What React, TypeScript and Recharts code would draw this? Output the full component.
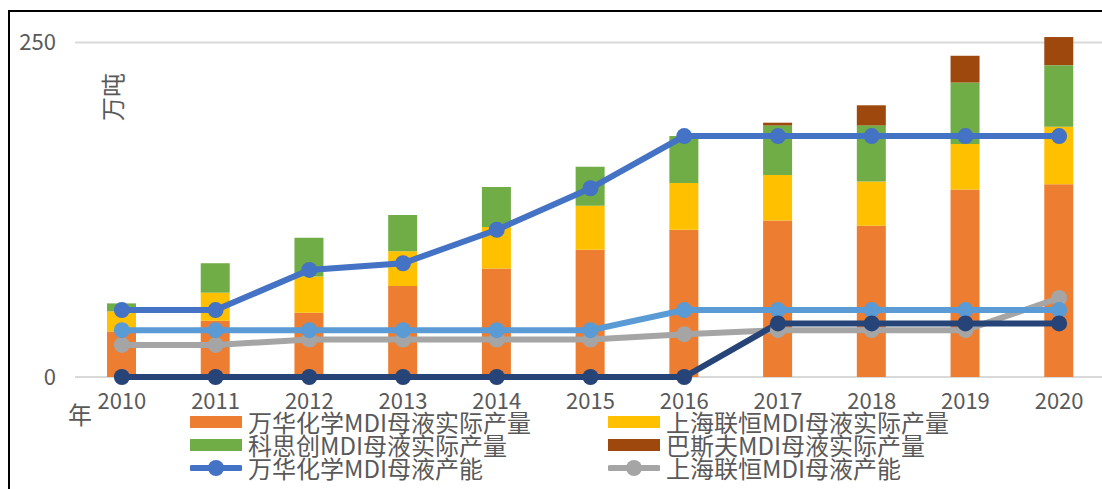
import { ComposedChart, Bar, Line, XAxis, YAxis, CartesianGrid } from 'recharts';

const years = ['2010', '2011', '2012', '2013', '2014', '2015', '2016', '2017', '2018', '2019', '2020'];

// 实际产量（万吨）
const wanhuaOutput = [34, 42, 48, 68, 81, 95, 110, 117, 113, 140, 144];
const lianhengOutput = [15, 21, 27, 26, 31, 33, 35, 34, 33, 34, 43];
const covestroOutput = [6, 22, 29, 27, 30, 29, 35, 37, 42, 46, 46];
const basfOutput = [0, 0, 0, 0, 0, 0, 0, 2, 15, 20, 21];

// 产能（万吨）
const wanhuaCapacity = [50, 50, 80, 85, 110, 141, 180, 180, 180, 180, 180];
const lianhengCapacity = [24, 24, 28, 28, 28, 28, 32, 35, 35, 35, 59];
const covestroCapacity = [35, 35, 35, 35, 35, 35, 50, 50, 50, 50, 50];
const basfCapacity = [0, 0, 0, 0, 0, 0, 0, 40, 40, 40, 40];

const yTicks = [0, 250];

const bars = [
  { key: 'wanhuaOutput', name: '万华化学MDI母液实际产量', color: '#ED7D31' },
  { key: 'lianhengOutput', name: '上海联恒MDI母液实际产量', color: '#FFC000' },
  { key: 'covestroOutput', name: '科思创MDI母液实际产量', color: '#70AD47' },
  { key: 'basfOutput', name: '巴斯夫MDI母液实际产量', color: '#9E480E' },
];

const lines = [
  { key: 'wanhuaCapacity', name: '万华化学MDI母液产能', color: '#4472C4', legend: true },
  { key: 'lianhengCapacity', name: '上海联恒MDI母液产能', color: '#A5A5A5', legend: true },
  { key: 'covestroCapacity', name: '科思创MDI母液产能', color: '#5B9BD5', legend: false },
  { key: 'basfCapacity', name: '巴斯夫MDI母液产能', color: '#264478', legend: false },
];

const data = years.map((year, i) => ({
  year,
  wanhuaOutput: wanhuaOutput[i],
  lianhengOutput: lianhengOutput[i],
  covestroOutput: covestroOutput[i],
  basfOutput: basfOutput[i],
  wanhuaCapacity: wanhuaCapacity[i],
  lianhengCapacity: lianhengCapacity[i],
  covestroCapacity: covestroCapacity[i],
  basfCapacity: basfCapacity[i],
}));

const FONT = '"Noto Sans CJK SC", "Noto Sans", sans-serif';
const TEXT = '#595959';

const legendItems = [
  ...bars.map((b) => ({ name: b.name, color: b.color, kind: 'bar' })),
  ...lines.filter((l) => l.legend).map((l) => ({ name: l.name, color: l.color, kind: 'line' })),
];

// only draw grid lines at the labelled ticks (0 and 250)
const gridAtTicks = (props: any) => {
  const scale = props?.yAxis?.scale;
  if (typeof scale === 'function') return yTicks.map((t) => scale(t));
  if (scale && typeof scale.map === 'function') return yTicks.map((t) => scale.map(t));
  return [];
};

function LegendIcon({ kind, color }: { kind: string; color: string }) {
  if (kind === 'bar') {
    return <div style={{ width: 52, height: 12, background: color, flex: 'none' }} />;
  }
  return (
    <svg width={52} height={18} style={{ flex: 'none' }}>
      <line x1={2} y1={9} x2={50} y2={9} stroke={color} strokeWidth={6} strokeLinecap="round" />
      <circle cx={26} cy={9} r={8} fill={color} />
    </svg>
  );
}

export default function App() {
  return (
    <div
      style={{
        position: 'fixed',
        left: 0,
        top: 0,
        width: 1102,
        height: 489,
        overflow: 'hidden',
        background: '#fff',
        fontFamily: FONT,
        color: TEXT,
      }}
    >
      <div style={{ position: 'absolute', left: 0, top: 0 }}>
        <ComposedChart width={1110} height={489} data={data} margin={{ top: 29, right: 4, bottom: 82, left: 0 }}>
          <CartesianGrid
            vertical={false}
            stroke="#D9D9D9"
            strokeWidth={2}
            horizontalCoordinatesGenerator={gridAtTicks}
          />
          <XAxis
            dataKey="year"
            height={30}
            tickLine={false}
            tickSize={0}
            tickMargin={16}
            axisLine={false}
            tick={{ fill: TEXT, fontSize: 22, fontFamily: FONT }}
          />
          <YAxis
            width={75}
            domain={[0, 260]}
            ticks={yTicks}
            axisLine={false}
            tickLine={false}
            tickSize={0}
            tickMargin={19}
            tick={{ fill: TEXT, fontSize: 22, fontFamily: FONT }}
          />
          {bars.map((b) => (
            <Bar key={b.key} dataKey={b.key} name={b.name} stackId="output" fill={b.color} barSize={29} isAnimationActive={false} />
          ))}
          {lines.map((l) => (
            <Line
              key={l.key}
              dataKey={l.key}
              name={l.name}
              stroke={l.color}
              strokeWidth={6}
              dot={{ r: 8, fill: l.color, stroke: l.color, strokeWidth: 0 }}
              activeDot={false}
              isAnimationActive={false}
            />
          ))}
        </ComposedChart>
      </div>

      {/* 图表外框 */}
      <div
        style={{
          position: 'absolute',
          left: 8,
          top: 10,
          width: 1200,
          height: 600,
          borderLeft: '2px solid #000',
          borderTop: '2px solid #000',
          pointerEvents: 'none',
        }}
      />

      <div
        style={{
          position: 'absolute',
          left: 112,
          top: 97,
          fontSize: 24,
          lineHeight: '26px',
          whiteSpace: 'nowrap',
          transform: 'translate(-50%, -50%) rotate(-90deg)',
        }}
      >
        万吨
      </div>
      <div style={{ position: 'absolute', left: 68, top: 400, fontSize: 24, lineHeight: '28px' }}>年</div>

      <div
        style={{
          position: 'absolute',
          left: 190,
          top: 410,
          display: 'grid',
          gridTemplateColumns: '418px 418px',
          rowGap: 0,
        }}
      >
        {legendItems.map((item) => (
          <div key={item.name} style={{ display: 'flex', alignItems: 'center', height: 23, whiteSpace: 'nowrap' }}>
            <LegendIcon kind={item.kind} color={item.color} />
            <span style={{ marginLeft: 6, fontSize: 24, lineHeight: '23px' }}>{item.name}</span>
          </div>
        ))}
      </div>
    </div>
  );
}
